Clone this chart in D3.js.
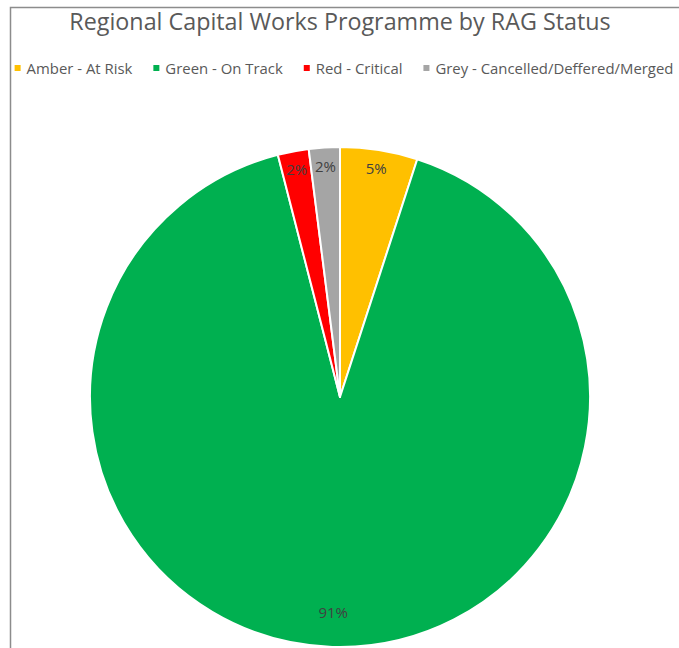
<!DOCTYPE html>
<html>
<head>
<meta charset="utf-8">
<script src="https://cdn.jsdelivr.net/npm/d3@7"></script>
<style>
  html, body { margin: 0; padding: 0; background: #fff; }
  svg { display: block; }
</style>
</head>
<body>
<svg id="chart" width="679" height="648"></svg>
<script>
// RAG status breakdown of the capital works programme (percent of schemes)
const categories = ["Amber - At Risk", "Green - On Track", "Red - Critical", "Grey - Cancelled/Deffered/Merged"];
const shares = [5, 91, 2, 2];
const colours = ["#FFC000", "#00B050", "#FF0000", "#A5A5A5"];
const titleText = "Regional Capital Works Programme by RAG Status";

const W = 679, H = 648;
const svg = d3.select("#chart");
const font = "'Open Sans', 'Noto Sans', sans-serif";

// chart frame (only top and left edges fall inside the window)
svg.append("rect")
  .attr("x", 10.5).attr("y", 7.5)
  .attr("width", W + 20).attr("height", H + 20)
  .attr("fill", "none").attr("stroke", "#8c8c8c").attr("stroke-width", 1.5);

// title
svg.append("text")
  .attr("x", 340).attr("y", 30)
  .attr("text-anchor", "middle")
  .attr("font-family", font)
  .attr("font-size", 23.3)
  .attr("fill", "#595959")
  .text(titleText);

// legend laid out in one centred row
const legend = svg.append("g");
const items = legend.selectAll("g").data(categories).join("g");
items.append("rect")
  .attr("width", 6).attr("height", 6)
  .attr("y", 65)
  .attr("fill", (d, i) => colours[i]);
items.append("text")
  .attr("x", 12).attr("y", 73.5)
  .attr("font-family", font)
  .attr("font-size", 14.9)
  .attr("fill", "#595959")
  .text(d => d);
let cx = 0;
const gap = 21;
items.each(function () {
  const g = d3.select(this);
  g.attr("transform", `translate(${cx},0)`);
  cx += 12 + g.select("text").node().getComputedTextLength() + gap;
});
const legendWidth = cx - gap;
legend.attr("transform", `translate(${344 - legendWidth / 2},0)`);

// pie
const centre = [340, 397];
const R = 250;
const pie = d3.pie().sort(null).value(d => d)(shares);
const arc = d3.arc().innerRadius(0).outerRadius(R);
const g = svg.append("g").attr("transform", `translate(${centre[0]},${centre[1]})`);

g.selectAll("path").data(pie).join("path")
  .attr("d", arc)
  .attr("fill", (d, i) => colours[i])
  .attr("stroke", "#fff")
  .attr("stroke-width", 2)
  .attr("stroke-linejoin", "round");

// percentage labels near the outer edge; the large slice sits a bit further in
const labelArcSmall = d3.arc().innerRadius(231).outerRadius(231);
const labelArcLarge = d3.arc().innerRadius(216).outerRadius(216);
g.selectAll("text.pct").data(pie).join("text")
  .attr("class", "pct")
  .attr("transform", d => {
    const a = d.data > 50 ? labelArcLarge : labelArcSmall;
    const [x, y] = a.centroid(d);
    return `translate(${x},${y})`;
  })
  .attr("text-anchor", "middle")
  .attr("dy", "0.35em")
  .attr("font-family", font)
  .attr("font-size", 15)
  .attr("fill", "#404040")
  .text(d => d.data + "%");
</script>
</body>
</html>
